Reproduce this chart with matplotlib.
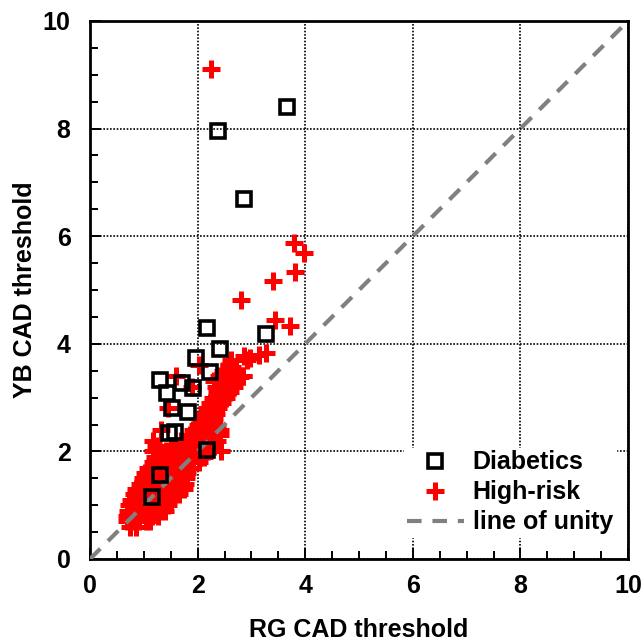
import matplotlib
matplotlib.use("Agg")
import matplotlib.pyplot as plt
from matplotlib.ticker import MultipleLocator

plt.rcParams['font.family'] = ['Liberation Sans', 'DejaVu Sans']
plt.rcParams['font.weight'] = 'bold'

# Diabetics (RG, YB)
diab_x = [3.66, 2.38, 2.86, 2.17, 3.27, 2.42, 1.97, 2.23, 1.30, 1.71, 1.43, 1.91,
          1.52, 1.82, 1.47, 1.58, 2.17, 1.30, 1.15]
diab_y = [8.40, 7.96, 6.70, 4.29, 4.19, 3.91, 3.73, 3.47, 3.32, 3.28, 3.08, 3.17,
          2.80, 2.73, 2.34, 2.36, 2.02, 1.56, 1.15]

# High-risk: outliers
hr_out_x = [2.25, 3.79, 3.98, 3.81, 3.40, 2.81, 3.44, 3.72, 3.27, 3.15, 2.97, 2.87,
            2.84, 2.64, 2.58, 2.92, 2.79]
hr_out_y = [9.11, 5.88, 5.68, 5.33, 5.16, 4.81, 4.45, 4.34, 3.82, 3.80, 3.73, 3.78,
            3.41, 3.56, 3.60, 3.69, 3.38]

# High-risk: dense band, read row by row (YB value -> RG values)
hr_rows = {
    0.60: [0.74, 0.86],
    0.70: [0.68, 0.80, 0.92, 1.04, 1.12],
    0.80: [0.68, 0.80, 0.92, 1.04, 1.16, 1.26],
    0.90: [0.70, 0.82, 0.94, 1.06, 1.18, 1.30, 1.40],
    1.00: [0.73, 0.85, 0.97, 1.09, 1.21, 1.33, 1.45],
    1.10: [0.76, 0.88, 1.00, 1.12, 1.24, 1.36, 1.50],
    1.20: [0.81, 0.93, 1.05, 1.17, 1.29, 1.41, 1.53, 1.65],
    1.30: [0.86, 0.98, 1.10, 1.22, 1.34, 1.46, 1.58, 1.74],
    1.40: [0.93, 1.05, 1.17, 1.29, 1.41, 1.53, 1.65, 1.77],
    1.50: [0.99, 1.11, 1.23, 1.35, 1.47, 1.59, 1.71, 1.79],
    1.60: [1.02, 1.14, 1.26, 1.38, 1.50, 1.62, 1.74, 1.80],
    1.70: [1.08, 1.20, 1.32, 1.44, 1.56, 1.68, 1.80, 1.90],
    1.80: [1.18, 1.30, 1.42, 1.54, 1.66, 1.78, 1.90, 2.02],
    1.90: [1.20, 1.32, 1.44, 1.56, 1.68, 1.80, 1.92, 2.04, 2.12],
    2.00: [1.17, 1.29, 1.41, 1.53, 1.65, 1.77, 1.89, 2.01, 2.13, 2.20, 2.43],
    2.10: [1.22, 1.50, 1.62, 1.74, 1.86, 1.98, 2.10, 2.22, 2.30],
    2.20: [1.18, 1.70, 1.80, 1.92, 2.04, 2.16, 2.28, 2.36],
    2.30: [1.86, 1.98, 2.10, 2.22, 2.34, 2.42],
    2.40: [1.32, 1.92, 2.04, 2.16, 2.28, 2.42],
    2.50: [2.00, 2.12, 2.24, 2.36],
    2.60: [2.06, 2.18, 2.30],
    2.70: [2.12, 2.24, 2.34],
    2.80: [1.45, 2.17, 2.28, 2.38],
    2.90: [2.23, 2.35, 2.46],
    3.00: [2.28, 2.40, 2.52],
    3.10: [2.36, 2.48, 2.60],
    3.20: [1.90, 2.34, 2.46, 2.58, 2.68],
    3.30: [2.30, 2.42, 2.54, 2.66],
    3.40: [1.60, 2.40, 2.52, 2.64, 2.76, 2.84],
    3.50: [2.48, 2.60, 2.72],
    3.60: [2.02, 2.58],
    3.70: [2.62],
}

hr_x = list(hr_out_x)
hr_y = list(hr_out_y)
for yv, xs in hr_rows.items():
    hr_x.extend(xs)
    hr_y.extend([yv] * len(xs))

unity = [0, 10]
ticks = [0, 2, 4, 6, 8, 10]

fig = plt.figure(figsize=(6.42, 6.43), dpi=100)
ax = fig.add_axes([90/642, 1-559/643, (628-90)/642, (559-21)/643])

ax.plot(hr_x, hr_y, linestyle='none', marker='+', markersize=13, markeredgewidth=3.6,
        color='#ff0000', zorder=3, label='High-risk')
ax.plot(unity, unity, linestyle=(0, (3.5, 2.6)), color='#808080', linewidth=3.0,
        zorder=4, label='line of unity')
ax.plot(diab_x, diab_y, linestyle='none', marker='s', markersize=10.5, markeredgewidth=2.6,
        markerfacecolor='none', markeredgecolor='black', zorder=5, label='Diabetics')

ax.set_xlim(0, 10)
ax.set_ylim(0, 10)
ax.set_xticks(ticks)
ax.set_yticks(ticks)
ax.xaxis.set_minor_locator(MultipleLocator(0.5))
ax.yaxis.set_minor_locator(MultipleLocator(0.5))
ax.grid(True, which='major', color='black', linestyle=(0, (1, 1)), linewidth=1.2, zorder=1)
ax.set_axisbelow(True)

ax.tick_params(which='major', direction='in', length=8, width=1.4, labelsize=18)
ax.tick_params(axis='x', which='major', pad=11)
ax.tick_params(axis='y', which='major', pad=14)
ax.tick_params(which='minor', direction='in', length=6, width=1.4)
ax.tick_params(top=False, right=False, which='both')
for lab in ax.get_xticklabels() + ax.get_yticklabels():
    lab.set_fontweight('bold')
for sp in ax.spines.values():
    sp.set_linewidth(2.0)

ax.set_xlabel('RG CAD threshold', fontsize=18, fontweight='bold', labelpad=14)
ax.set_ylabel('YB CAD threshold', fontsize=18, fontweight='bold', labelpad=4)

h, l = ax.get_legend_handles_labels()
order = [2, 0, 1]
leg = ax.legend([h[i] for i in order], [l[i] for i in order], loc='lower right',
                bbox_to_anchor=(1.0, 0.018),
                frameon=True, fancybox=False, edgecolor='white', framealpha=1,
                prop={'size': 18, 'weight': 'bold'}, handlelength=2.3,
                borderpad=0.1, labelspacing=0.24, handletextpad=0.35)
leg.set_zorder(10)

fig.savefig('out.png', dpi=100)
